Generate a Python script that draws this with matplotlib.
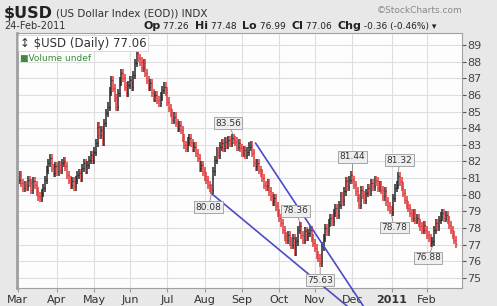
import numpy as np
import pandas as pd
import matplotlib
matplotlib.use('Agg')
import matplotlib.pyplot as plt

# daily closes, month by month
mar = [80.9, 81.2, 80.7, 80.4, 80.6, 80.5, 80.9, 80.7, 80.3, 80.8, 80.6, 80.2, 79.9, 79.8, 80.1, 80.4, 80.9, 81.5, 81.9, 82.2, 81.6, 81.3, 81.7]
apr = [81.4, 81.8, 81.5, 81.9, 82.0, 81.7, 81.2, 80.9, 80.6, 80.8, 80.5, 80.9, 81.2, 81.3, 81.0, 81.6, 81.9, 81.5, 81.8, 82.1, 82.4, 82.1]
may = [82.6, 83.1, 84.1, 83.6, 83.9, 83.2, 84.3, 84.9, 85.3, 86.2, 86.9, 86.4, 85.8, 85.3, 86.1, 86.8, 87.3, 87.0, 86.5, 86.1, 86.6]
jun = [86.9, 86.5, 87.2, 87.9, 88.5, 88.2, 88.0, 87.6, 87.9, 87.3, 86.9, 86.5, 86.7, 86.1, 85.8, 86.0, 85.7, 85.5, 85.9, 86.3, 86.5, 86.2]
jul = [85.6, 85.2, 84.9, 84.5, 84.7, 84.3, 84.0, 84.2, 83.9, 83.4, 83.0, 82.8, 83.2, 83.4, 83.1, 82.8, 82.9, 82.5, 82.2, 81.6, 81.8, 81.4]
aug = [81.1, 80.9, 80.6, 80.4, 80.3, 81.4, 82.1, 82.6, 82.4, 82.9, 83.1, 82.8, 83.2, 83.0, 83.3, 83.1, 83.4, 83.3, 83.2, 82.9, 83.1, 82.8]
sep = [82.5, 82.7, 82.4, 82.6, 82.9, 83.0, 82.5, 81.9, 81.7, 81.9, 81.5, 81.3, 81.0, 80.6, 80.5, 80.7, 80.2, 79.9, 79.6, 79.8, 79.3, 78.9]
oct_ = [78.6, 78.3, 77.9, 77.5, 77.3, 77.6, 77.2, 77.0, 77.4, 76.6, 77.2, 77.9, 78.1, 77.6, 77.3, 77.8, 77.5, 77.7, 77.9, 77.4, 77.1]
nov = [76.8, 76.4, 76.2, 75.9, 76.9, 77.4, 78.0, 77.8, 78.3, 78.6, 78.4, 78.9, 79.2, 78.8, 79.4, 79.9, 79.6, 80.2, 80.8, 80.5, 80.9, 81.2]
dec = [80.9, 80.6, 80.2, 79.8, 79.4, 80.3, 80.0, 79.7, 80.1, 80.4, 80.2, 80.7, 80.5, 80.9, 80.8, 80.4, 80.6, 80.3, 79.9, 80.2, 79.6, 79.3, 79.1]
jan = [78.95, 79.8, 80.4, 80.6, 81.1, 80.8, 80.5, 80.1, 79.7, 79.4, 79.2, 78.9, 78.6, 78.9, 78.5, 78.6, 78.3, 78.1, 77.9, 78.2, 77.9]
feb = [77.6, 77.4, 77.1, 77.2, 77.9, 78.3, 78.1, 78.5, 78.7, 78.9, 78.6, 78.8, 78.5, 78.2, 77.9, 77.6, 77.3, 77.06]
first_open = 80.7

# labelled highs / lows
label_idx = [114, 127, 166, 178, 197, 220, 224, 244]
label_val = [80.08, 83.56, 78.36, 75.63, 81.44, 78.78, 81.32, 76.88]
label_off = [(-2, -10), (-4, 9), (-3, 8), (0, -9), (0, 10), (2, -9), (1, 9), (-3, -8)]

# trendlines (bar index, price)
trend1_x = [140, 203.5]
trend1_y = [83.1, 73.3]
trend2_x = [114, 194]
trend2_y = [80.08, 73.3]

month_labels = ['Mar', 'Apr', 'May', 'Jun', 'Jul', 'Aug', 'Sep', 'Oct', 'Nov', 'Dec', '2011', 'Feb']

closes = np.array(mar + apr + may + jun + jul + aug + sep + oct_ + nov + dec + jan + feb)
opens = np.concatenate([[first_open], closes[:-1]])
highs = np.maximum(opens, closes) + 0.25
lows = np.minimum(opens, closes) - 0.25
dates = pd.bdate_range('2010-03-01', periods=len(closes))
idx = np.arange(len(closes))
colors = np.where(closes < opens, '#e0393a', '#262626')

W, H = 497, 306
fig = plt.figure(figsize=(W / 100, H / 100), dpi=100, facecolor='#e8e8e8')
ax = fig.add_axes([17 / W, 18 / H, 445 / W, 255 / H], facecolor='#fdfdfd')

# OHLC bars
ax.vlines(idx, lows, highs, colors=colors, lw=1.1)
ax.hlines(opens, idx - 0.5, idx, colors=colors, lw=0.9)
ax.hlines(closes, idx, idx + 0.5, colors=colors, lw=0.9)

ax.set_xlim(-0.5, 261.5)
ax.set_ylim(74.4, 89.72)

# month ticks
month_start = [i for i in idx if i == 0 or dates[i].month != dates[i - 1].month]
ax.set_xticks(month_start)
ax.set_xticklabels(month_labels)
for t in ax.get_xticklabels():
    if t.get_text() == '2011':
        t.set_fontweight('bold')
ax.set_yticks(range(75, 90))
ax.yaxis.tick_right()
ax.tick_params(axis='y', labelsize=8, colors='#555', length=3, pad=1, labelcolor='#444')
ax.tick_params(axis='x', labelsize=8, colors='#999', length=3, pad=2, labelcolor='#333')
ax.grid(True, color='#dedede', lw=0.8)
ax.set_axisbelow(True)
for s in ax.spines.values():
    s.set_color('#a0a0a0')
ax.spines['left'].set_linewidth(2)

# trendlines
ax.plot(trend1_x, trend1_y, color='#4b4bc6', lw=1.2, clip_on=False, zorder=4)
ax.plot(trend2_x, trend2_y, color='#4b4bc6', lw=1.2, clip_on=False, zorder=4)

# value labels
for i, v, off in zip(label_idx, label_val, label_off):
    ax.annotate(f'{v:.2f}', xy=(i, v), xytext=off, textcoords='offset points',
                ha='center', va='center', fontsize=6.5, color='#333',
                bbox=dict(boxstyle='square,pad=0.15', fc='#eeeeee', ec='#999', lw=0.6),
                arrowprops=dict(arrowstyle='-', color='#888', lw=0.6, shrinkA=0, shrinkB=0),
                zorder=5)

# legend box
ax.text(0.006, 0.985, '\u2195 $USD (Daily) 77.06', transform=ax.transAxes, ha='left', va='top',
        fontsize=8.5, color='#333', bbox=dict(boxstyle='square,pad=0.12', fc='white', ec='#ccc', lw=0.5),
        zorder=6)
ax.text(0.006, 0.918, '\u25a0Volume undef', transform=ax.transAxes, ha='left', va='top',
        fontsize=6.5, color='#3c8c3c', zorder=6)

# header
fig.canvas.draw()
r = fig.canvas.get_renderer()
t = fig.text(4 / W, 1 - 18 / H, '$USD', fontsize=11.5, fontweight='bold', color='#222')
x = t.get_window_extent(r).x1 + 3
fig.text(x / W, 1 - 17 / H, '(US Dollar Index (EOD)) INDX', fontsize=7.5, color='#333')
fig.text(4 / W, 1 - 29 / H, '24-Feb-2011', fontsize=7, color='#333')
fig.text(463 / W, 1 - 13 / H, '\u00a9StockCharts.com', fontsize=6.5, color='#888', ha='right')

parts = [('Op', True), (' 77.26  ', False), ('Hi', True), (' 77.48  ', False), ('Lo', True),
         (' 76.99  ', False), ('Cl', True), (' 77.06  ', False), ('Chg', True),
         (' -0.36 (-0.46%) \u25be', False)]
x = 143
for s, b in parts:
    t = fig.text(x / W, 1 - 29 / H, s, fontsize=8 if b else 6.5,
                 fontweight='bold' if b else 'normal', color='#222')
    x = t.get_window_extent(r).x1

fig.savefig('out.png', dpi=100, facecolor=fig.get_facecolor())
